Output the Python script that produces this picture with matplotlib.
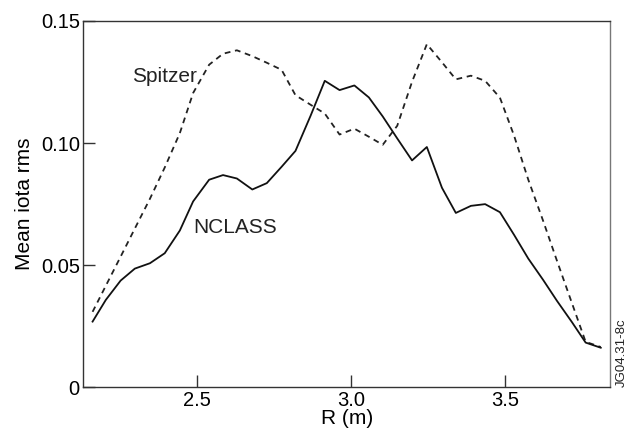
import numpy as np
import matplotlib
matplotlib.use('Agg')
import matplotlib.pyplot as plt

plt.rcParams['font.family'] = ['Liberation Sans', 'DejaVu Sans']

# radius grid (m)
r = [2.161, 2.204, 2.252, 2.298, 2.347, 2.395, 2.444, 2.487, 2.539, 2.584,
     2.629, 2.679, 2.726, 2.774, 2.819, 2.868, 2.914, 2.962, 3.010, 3.057,
     3.102, 3.149, 3.197, 3.245, 3.294, 3.339, 3.388, 3.434, 3.482, 3.528,
     3.574, 3.622, 3.667, 3.716, 3.760, 3.809]

nclass = [0.0269, 0.0358, 0.0437, 0.0486, 0.0508, 0.0549, 0.0642, 0.0761, 0.0850, 0.0869,
          0.0855, 0.0810, 0.0836, 0.0903, 0.0968, 0.1112, 0.1255, 0.1217, 0.1236, 0.1187,
          0.1109, 0.1019, 0.0929, 0.0984, 0.0817, 0.0714, 0.0743, 0.0750, 0.0717, 0.0624,
          0.0527, 0.0440, 0.0354, 0.0266, 0.0183, 0.0162]

spitzer = [0.0309, 0.0416, 0.0535, 0.0650, 0.0772, 0.0900, 0.1041, 0.1205, 0.1321, 0.1366,
           0.1380, 0.1356, 0.1329, 0.1300, 0.1196, 0.1157, 0.1121, 0.1035, 0.1059, 0.1026,
           0.0993, 0.1071, 0.1251, 0.1405, 0.1331, 0.1261, 0.1276, 0.1255, 0.1186, 0.1030,
           0.0850, 0.0682, 0.0518, 0.0343, 0.0186, 0.0165]

xticks = [2.5, 3.0, 3.5]
xticklabels = ['2.5', '3.0', '3.5']
yticks = [0, 0.05, 0.10, 0.15]
yticklabels = ['0', '0.05', '0.10', '0.15']

fig = plt.figure(figsize=(6.27, 4.4), dpi=100)
ax = fig.add_axes([0.1329, 0.1198, 0.8400, 0.8325])

ax.plot(r, spitzer, color='#222222', lw=1.3, linestyle=(0, (3.2, 2.6)))
ax.plot(r, nclass, color='#111111', lw=1.3)

ax.set_xlim(2.131, 3.839)
ax.set_ylim(0, 0.15)
ax.set_xticks(xticks)
ax.set_xticklabels(xticklabels)
ax.set_yticks(yticks)
ax.set_yticklabels(yticklabels)
ax.tick_params(direction='in', length=8.5, width=1, labelsize=14.5, color='#333333')
ax.tick_params(axis='x', pad=3)
ax.tick_params(axis='y', pad=2.5)

for s in ax.spines.values():
    s.set_linewidth(1.0)
    s.set_color('#333333')
ax.spines['right'].set_color('#777777')

ax.set_xlabel('R (m)', fontsize=15, labelpad=-1)
ax.set_ylabel('Mean iota rms', fontsize=15, labelpad=5)

ax.text(2.288, 0.1249, 'Spitzer', fontsize=15, color='#222222', va='baseline', ha='left')
ax.text(2.487, 0.0631, 'NCLASS', fontsize=15, color='#222222', va='baseline', ha='left')

fig.text(0.991, 0.1198, 'JG04.31-8c', fontsize=9.5, rotation=90, ha='center', va='bottom',
         color='#222222')

fig.savefig('out.png', dpi=100)
